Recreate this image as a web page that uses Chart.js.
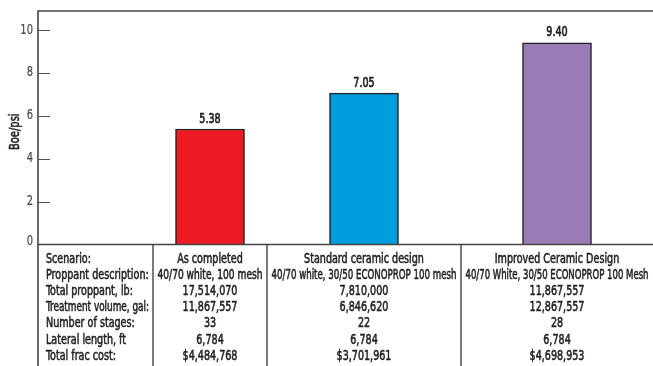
<!DOCTYPE html>
<html><head><meta charset="utf-8">
<script src="https://cdn.jsdelivr.net/npm/chart.js@4"></script>
<style>html,body{margin:0;padding:0;background:#fff}#wrap{width:653px;height:366px;position:relative}</style>
</head><body><div id="wrap"><canvas id="c" width="653" height="366"></canvas></div>
<script>
// ---- data ----
const scenarios = ['As completed', 'Standard ceramic design', 'Improved Ceramic Design'];
const boePerPsi = [5.38, 7.05, 9.40];
const valueLabels = ['5.38', '7.05', '9.40'];
const yTickValues = [0, 2, 4, 6, 8, 10];
const yAxisTitle = 'Boe/psi';
const rowLabels = ['Scenario:', 'Proppant description:', 'Total proppant, lb:', 'Treatment volume, gal:', 'Number of stages:', 'Lateral length, ft', 'Total frac cost:'];
const proppantDesc = ['40/70 white, 100 mesh', '40/70 white, 30/50 ECONOPROP 100 mesh', '40/70 White, 30/50 ECONOPROP 100 Mesh'];
const totalProppant = ['17,514,070', '7,810,000', '11,867,557'];
const treatmentVolume = ['11,867,557', '6,846,620', '12,867,557'];
const numberOfStages = ['33', '22', '28'];
const lateralLength = ['6,784', '6,784', '6,784'];
const totalFracCost = ['$4,484,768', '$3,701,961', '$4,698,953'];

// ---- style / layout ----
const barColors = ['#ed1c24', '#009ddc', '#9a7db8'];
const colWidths = [115, 114, 194, 192];          // table column widths (label column + 3 scenarios)
const FONT = "'Liberation Sans Narrow', 'DejaVu Sans Condensed', 'DejaVu Sans', sans-serif";
const TEXT = '#231f20';
const LINE = '#454545';
const SX = 0.79;                                  // horizontal condensing of text

const tableRows = [scenarios, proppantDesc, totalProppant, treatmentVolume, numberOfStages, lateralLength, totalFracCost];
const colEdges = colWidths.reduce((a, w) => { a.push(a[a.length - 1] + w); return a; }, [0]);
const colCenter = i => (colEdges[i] + colEdges[i + 1]) / 2;

function drawText(ctx, text, x, y, align, font, color, opts) {
  opts = opts || {};
  const sx = opts.sx || SX;
  ctx.save();
  ctx.font = font;
  ctx.fillStyle = color;
  ctx.strokeStyle = color;
  ctx.lineWidth = opts.stroke == null ? 0.55 : opts.stroke;
  ctx.textAlign = align;
  ctx.textBaseline = 'middle';
  ctx.translate(x, y);
  if (opts.rot) ctx.rotate(opts.rot);
  ctx.scale(sx, 1);
  if (opts.maxW) {
    const mw = opts.maxW / sx;
    ctx.fillText(text, 0, 0, mw);
    if (ctx.lineWidth > 0) ctx.strokeText(text, 0, 0, mw);
  } else {
    ctx.fillText(text, 0, 0);
    if (ctx.lineWidth > 0) ctx.strokeText(text, 0, 0);
  }
  ctx.restore();
}

const framePlugin = {
  id: 'frame',
  afterDraw(chart) {
    const { ctx, chartArea: a, scales: { y } } = chart;
    const H = chart.height;
    ctx.save();
    ctx.strokeStyle = LINE;
    ctx.lineWidth = 1.6;
    ctx.beginPath();
    ctx.moveTo(a.left, H); ctx.lineTo(a.left, a.top); ctx.lineTo(a.right, a.top);
    ctx.moveTo(a.left, a.bottom); ctx.lineTo(a.right, a.bottom);
    ctx.stroke();
    ctx.lineWidth = 1.3;
    ctx.strokeStyle = '#333';
    ctx.beginPath();
    for (let i = 1; i < colEdges.length - 1; i++) {
      const xp = chart.scales.x.getPixelForValue(colEdges[i]);
      ctx.moveTo(xp, a.bottom); ctx.lineTo(xp, H);
    }
    ctx.stroke();
    // tick marks inside + tick labels
    ctx.strokeStyle = '#555';
    ctx.lineWidth = 1.2;
    ctx.beginPath();
    y.ticks.forEach(t => {
      const py = Math.round(y.getPixelForValue(t.value)) + 0.5;
      if (t.value !== 0) { ctx.moveTo(a.left, py); ctx.lineTo(a.left + 12, py); }
    });
    ctx.stroke();
    ctx.restore();
    y.ticks.forEach(t => {
      const py = y.getPixelForValue(t.value) - (t.value === 0 ? 3 : 0);
      drawText(ctx, String(t.value), a.left - 5, py, 'right', '14px ' + FONT, '#4a4a4a', { stroke: 0.2 });
    });
    // axis title
    drawText(ctx, yAxisTitle, 15, (a.top + a.bottom) / 2 + 4, 'center', '14px ' + FONT, TEXT, { rot: -Math.PI / 2 });
    // table text
    const font = '13.5px ' + FONT;
    const x = chart.scales.x;
    rowLabels.forEach((lab, r) => {
      const ty = a.bottom + 15 + r * 16.1;
      drawText(ctx, lab, a.left + 8, ty, 'left', font, TEXT, { maxW: colWidths[0] - 12 });
      tableRows[r].forEach((v, c) => {
        const x0 = x.getPixelForValue(colEdges[c + 1]);
        const x1 = x.getPixelForValue(colEdges[c + 2]);
        drawText(ctx, v, (x0 + x1) / 2, ty, 'center', font, TEXT, { maxW: x1 - x0 - 9 });
      });
    });
  },
  afterDatasetsDraw(chart) {
    const { ctx } = chart;
    const meta = chart.getDatasetMeta(0);
    meta.data.forEach((bar, i) => {
      drawText(ctx, valueLabels[i], bar.x, bar.y - 10, 'center', '13.5px ' + FONT, TEXT, { stroke: 0.7 });
    });
  }
};

new Chart(document.getElementById('c'), {
  type: 'bar',
  data: {
    datasets: [{
      data: boePerPsi.map((v, i) => ({ x: colCenter(i + 1), y: v })),
      backgroundColor: barColors,
      borderColor: '#222',
      borderWidth: 1.5,
      barThickness: 69
    }]
  },
  options: {
    responsive: false,
    devicePixelRatio: 1,
    animation: false,
    layout: { padding: { top: 11, right: 0, bottom: 121.5, left: 0 } },
    plugins: { legend: { display: false }, tooltip: { enabled: false } },
    scales: {
      x: { type: 'linear', offset: false, min: 0, max: colEdges[colEdges.length - 1], display: false },
      y: {
        min: 0, max: 10.88,
        afterBuildTicks: s => { s.ticks = yTickValues.map(v => ({ value: v })); },
        afterFit: s => { s.width = 38; },
        grid: { display: false, drawTicks: false },
        border: { display: false },
        ticks: { display: false },
        title: { display: false, text: yAxisTitle }
      }
    }
  },
  plugins: [framePlugin]
});
</script>
</body></html>
